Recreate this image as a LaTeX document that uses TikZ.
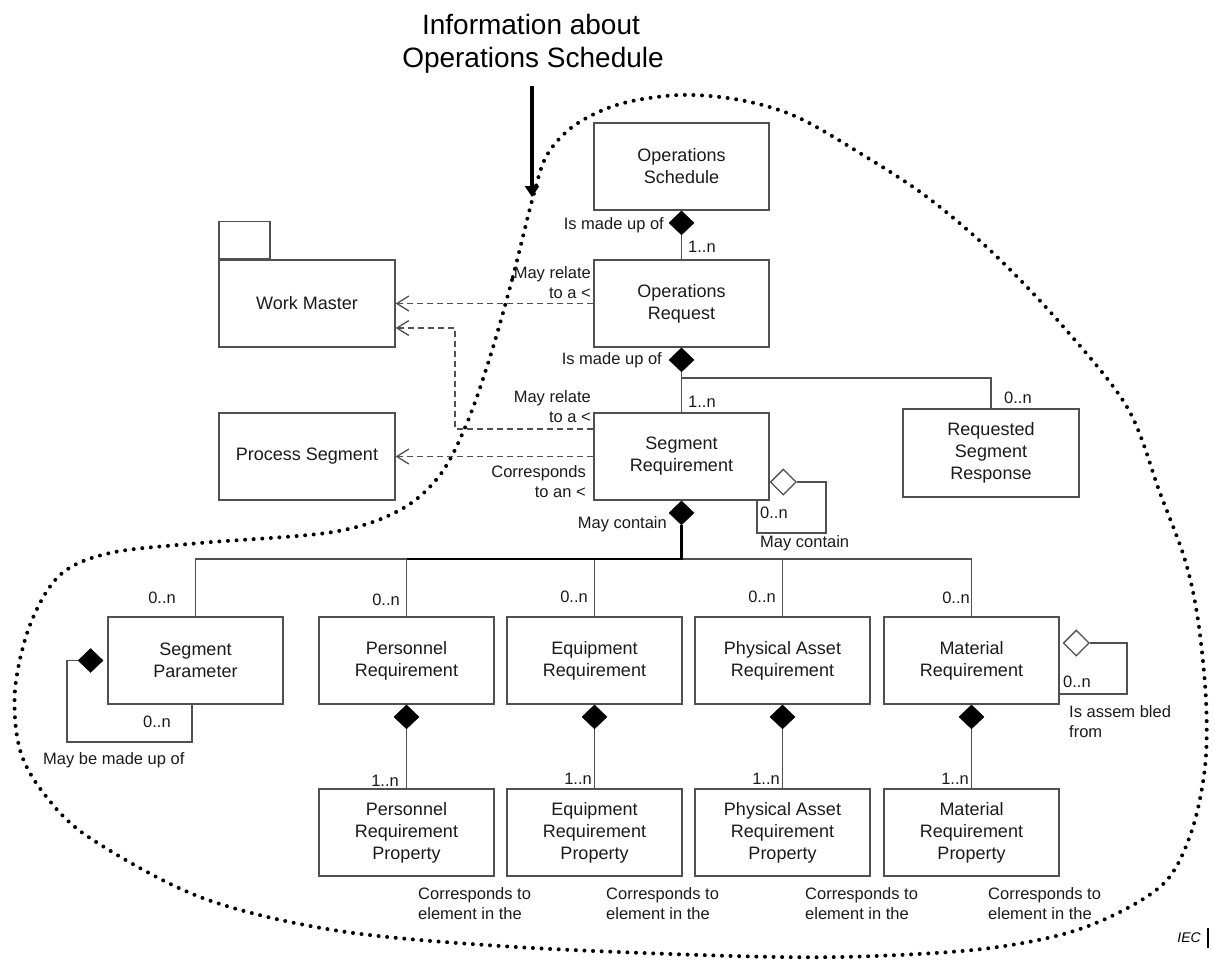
\documentclass[tikz,border=0pt]{standalone}
\usepackage{fontspec}
\setmainfont{Liberation Sans}
\usetikzlibrary{arrows.meta,shapes.geometric}
\definecolor{edge}{HTML}{505050}
\definecolor{ink}{HTML}{1A1A1A}

\begin{document}
\begin{tikzpicture}[x=1pt,y=-1pt,
  cls/.style={draw=edge, line width=1.3pt, minimum width=175pt, minimum height=87pt,
    inner sep=0pt, align=center, text=ink, font=\fontsize{18}{22}\selectfont},
  lbl/.style={inner sep=0pt, text=ink, font=\fontsize{16.5}{20}\selectfont},
  conn/.style={draw=edge, line width=1.3pt},
  dep/.style={draw=edge, line width=1.3pt, dash pattern=on 6pt off 4pt,
    -{Straight Barb[length=12pt,width=15pt,line width=1.3pt]}},
  comp/.style={diamond, fill=black, draw=black, line width=0.5pt,
    minimum width=25pt, minimum height=24pt, inner sep=0pt},
  aggr/.style={diamond, fill=white, draw=edge, line width=1.3pt,
    minimum width=26pt, minimum height=26pt, inner sep=0pt},
  boundary/.style={line width=4pt, line cap=round, dash pattern=on 0pt off 8.6pt},
  title/.style={inner sep=0pt, text=black, font=\fontsize{28}{33}\selectfont, anchor=base},
]
\useasboundingbox (0,0) rectangle (1215,961);

% dotted scope boundary
\draw[boundary] plot[smooth cycle, tension=0.55] coordinates {
  (533,197) (512,280) (490,357) (467,423) (440,475) (400,510) (333,532)
  (200,543) (110,553) (60,575) (30,625) (15,690) (20,750) (45,795)
  (90,838) (200,897) (333,930) (500,946) (700,955) (840,957) (973,950)
  (1060,935) (1120,912) (1167,880) (1192,830) (1205,767) (1206,700)
  (1198,620) (1185,560) (1160,493) (1127,407) (1060,323) (993,253)
  (927,197) (863,155) (797,117) (740,100) (680,95) (620,104) (575,125)
  (547,155)};

% heading and pointer
\node[title] (t1) at (531,34) {Information about};
\node[title] (t2) at (533,67) {Operations Schedule};
\coordinate (tail) at (532,86);
\coordinate (tip) at (532,197);
\draw[line width=4.5pt, -{Triangle[length=11pt,width=14pt]}] (tail) -- (tip);

% classes
\node[cls] (os) at (681.5,166.5) {Operations\\Schedule};
\node[cls] (or) at (681.5,303.5) {Operations\\Request};
\node[cls] (sr) at (681.5,456.5) {Segment\\Requirement};
\node[cls, minimum width=176pt, minimum height=88pt] (rsr) at (991,453) {Requested\\Segment\\Response};
\node[cls, minimum width=176pt] (wm) at (307,303.5) {Work Master};
\node[draw=edge, line width=1.3pt, anchor=south west, minimum width=51pt,
  minimum height=37pt, inner sep=0pt] (wmtab) at (wm.north west) {};
\node[cls, minimum width=176pt] (ps) at (307,456.5) {Process Segment};

\node[cls] (sp)  at (195.5,660.5) {Segment\\Parameter};
\node[cls] (pr)  at (406.5,660.5) {Personnel\\Requirement};
\node[cls] (er)  at (594.5,660.5) {Equipment\\Requirement};
\node[cls] (par) at (782.5,660.5) {Physical Asset\\Requirement};
\node[cls] (mr)  at (971.5,660.5) {Material\\Requirement};

\node[cls] (prp)  at (406.5,832.5) {Personnel\\Requirement\\Property};
\node[cls] (erp)  at (594.5,832.5) {Equipment\\Requirement\\Property};
\node[cls] (parp) at (782.5,832.5) {Physical Asset\\Requirement\\Property};
\node[cls] (mrp)  at (971.5,832.5) {Material\\Requirement\\Property};

% schedule -> request
\node[comp, anchor=north] (d1) at (os.south) {};
\draw[conn] (d1.south) -- (or.north);
\node[lbl, anchor=east] (lb1) at (664,225) {Is made up of};
\node[lbl, anchor=west] (m1) at (688,247) {1..n};

% request -> segment requirement / requested segment response
\node[comp, anchor=north] (d2) at (or.south) {};
\draw[conn] (d2.south) -- (sr.north);
\coordinate (br) at (681.5,378);
\draw[conn] (br) -| (rsr.north);
\node[lbl, anchor=east] (lb2) at (662,360) {Is made up of};
\node[lbl, anchor=west] (m2) at (688,402) {1..n};
\node[lbl, anchor=west] (m3) at (1004,398) {0..n};

% dependencies
\draw[dep] (or.west) -- (wm.east);
\draw[dep] ([yshift=27.5pt]sr.west) -- (455,429) -- (455,328) -- ([yshift=-24.5pt]wm.east);
\draw[dep] (sr.west) -- (ps.east);
\node[lbl, anchor=east, align=right] (lb3) at (591,283) {May relate\\to a <};
\node[lbl, anchor=east, align=right] (lb4) at (591,407) {May relate\\to a <};
\node[lbl, anchor=east, align=right] (lb5) at (586,482) {Corresponds\\to an <};

% segment requirement self aggregation
\node[aggr, anchor=west] (a1) at ([yshift=-25.5pt]sr.east) {};
\coordinate (l1a) at (826,533);
\coordinate (l1b) at (757,533);
\draw[conn] (a1.east) -| (l1a) -- (l1b) -- (l1b |- sr.south);
\node[lbl, anchor=west] (m4) at (760,513) {0..n};
\node[lbl, anchor=west] (lb6) at (760,543) {May contain};

% segment requirement -> contents
\node[comp, anchor=north] (d3) at (sr.south) {};
\node[lbl, anchor=east] (lb7) at (667,524) {May contain};
\coordinate (bus) at (681.5,559);
\draw[conn] (sp.north) -- (sp.north |- bus) -- (mr.north |- bus) -- (mr.north);
\draw[conn] (pr.north) -- (pr.north |- bus);
\draw[conn] (er.north) -- (er.north |- bus);
\draw[conn] (par.north) -- (par.north |- bus);
\draw[line width=2.5pt] (pr.north |- bus) -- (bus) -- (d3.south);
\node[lbl, anchor=east] (m5) at (176,598) {0..n};
\node[lbl, anchor=east] (m6) at (400,600) {0..n};
\node[lbl, anchor=east] (m7) at (588,597) {0..n};
\node[lbl, anchor=east] (m8) at (776,597) {0..n};
\node[lbl, anchor=east] (m9) at (970,598) {0..n};

% segment parameter self composition
\node[comp, anchor=east] (d4) at ([xshift=-4pt]sp.west) {};
\coordinate (l2a) at (67,742);
\coordinate (l2b) at (192,742);
\draw[conn] (d4.west) -| (l2a) -- (l2b) -- (l2b |- sp.south);
\node[lbl, anchor=west] (m10) at (143,722) {0..n};
\node[lbl, anchor=west] (lb8) at (43,760) {May be made up of};

% requirement -> property
\node[comp, anchor=north] (d5) at (pr.south) {};
\draw[conn] (d5.south) -- (prp.north);
\node[comp, anchor=north] (d6) at (er.south) {};
\draw[conn] (d6.south) -- (erp.north);
\node[comp, anchor=north] (d7) at (par.south) {};
\draw[conn] (d7.south) -- (parp.north);
\node[comp, anchor=north] (d8) at (mr.south) {};
\draw[conn] (d8.south) -- (mrp.north);
\node[lbl, anchor=east] (m11) at (399,781) {1..n};
\node[lbl, anchor=east] (m12) at (592,779) {1..n};
\node[lbl, anchor=east] (m13) at (780,779) {1..n};
\node[lbl, anchor=east] (m14) at (969,779) {1..n};

% material requirement self aggregation
\node[aggr, anchor=west] (a2) at ([xshift=3pt,yshift=17.5pt]mr.east) {};
\coordinate (l3) at (1127,694);
\draw[conn] (a2.east) -| (l3) -- (l3 -| mr.east);
\node[lbl, anchor=west] (m15) at (1063,682) {0..n};
\node[lbl, anchor=west, align=left] (lb9) at (1069,722) {Is assem bled\\from};

% property notes
\node[lbl, anchor=west, align=left] (n1) at (418,904) {Corresponds to\\element in the};
\node[lbl, anchor=west, align=left] (n2) at (606,904) {Corresponds to\\element in the};
\node[lbl, anchor=west, align=left] (n3) at (805,904) {Corresponds to\\element in the};
\node[lbl, anchor=west, align=left] (n4) at (988,904) {Corresponds to\\element in the};

% source mark
\node[inner sep=0pt, anchor=east, font=\itshape\fontsize{14}{16}\selectfont] (iec) at (1201,938) {IEC};
\draw[line width=1.2pt] ([xshift=7pt,yshift=5pt]iec.north east) -- ([xshift=7pt,yshift=-5pt]iec.south east);
\end{tikzpicture}
\end{document}
